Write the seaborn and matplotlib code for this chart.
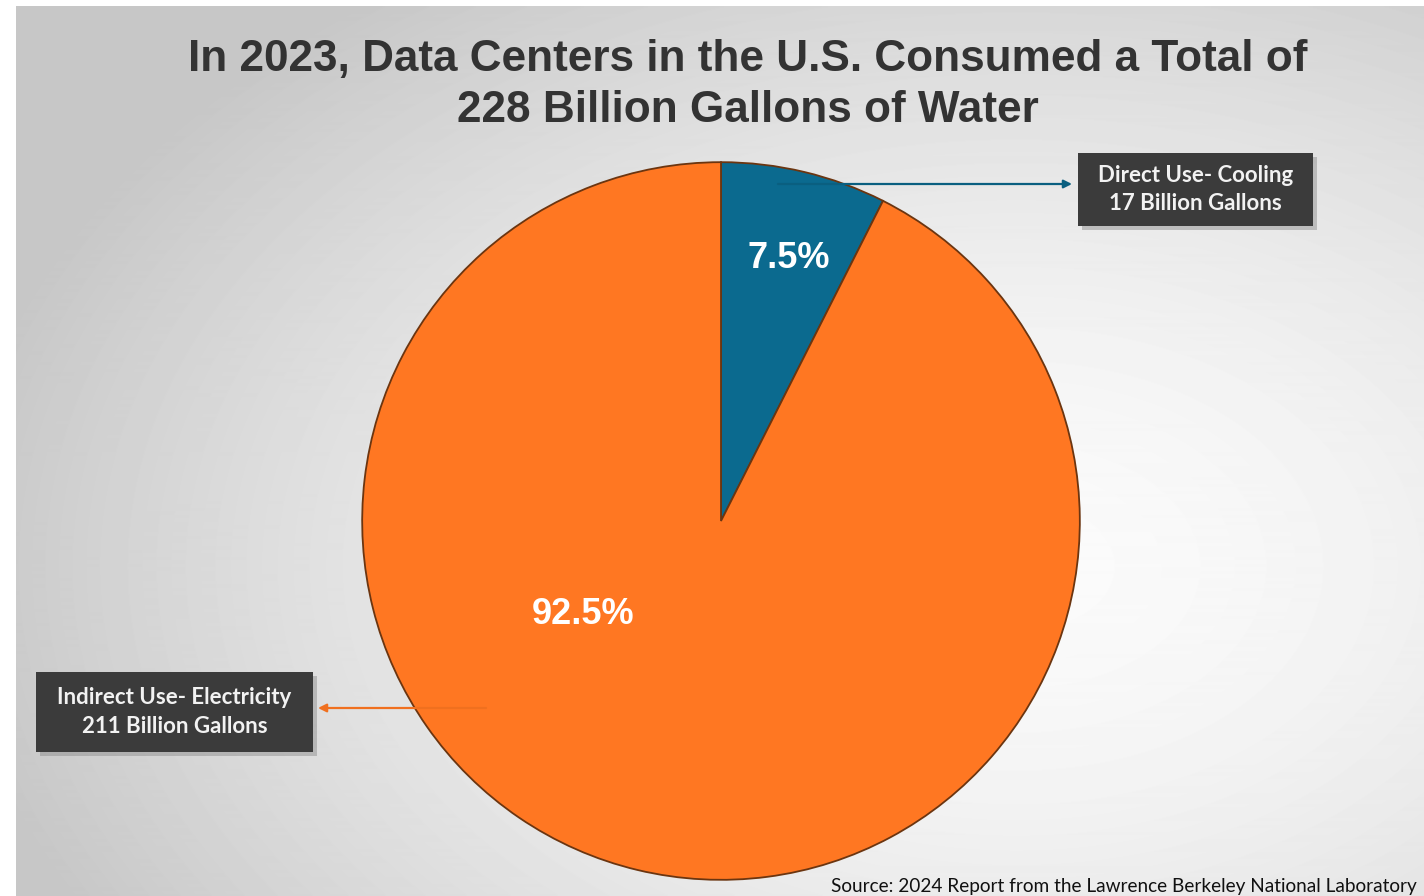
import numpy as np
import matplotlib.pyplot as plt
from matplotlib.patches import Rectangle, FancyArrowPatch
import seaborn as sns

# Werte aus der Grafik (Milliarden Gallonen)
categories = ['Direct Use- Cooling', 'Indirect Use- Electricity']
gallons = [17, 211]
share_labels = ['7.5%', '92.5%']
box_texts = ['Direct Use- Cooling\n17 Billion Gallons',
             'Indirect Use- Electricity\n211 Billion Gallons']
title = ('In 2023, Data Centers in the U.S. Consumed a Total of\n'
         '228 Billion Gallons of Water')
source = 'Source: 2024 Report from the Lawrence Berkeley National Laboratory'

sns.set_theme(style='white')
plt.rcParams['font.family'] = ['Liberation Sans', 'DejaVu Sans']
colors = sns.color_palette(['#0b6a8f', '#ff7722'])

W, H = 1424, 896
fig = plt.figure(figsize=(W / 100, H / 100), dpi=100)
fig.patch.set_facecolor('white')

# Hintergrund mit radialem Verlauf
bg = fig.add_axes([16 / W, 0, 1 - 16 / W, 1 - 6 / H])
yy, xx = np.mgrid[0:890, 0:1408]
d = np.sqrt(((xx - 1000) / 1050) ** 2 + ((yy - 560) / 700) ** 2)
shade = np.clip(0.985 - 0.2 * d ** 1.6, 0.78, 1)
bg.imshow(shade, cmap='gray', vmin=0, vmax=1, aspect='auto')
bg.axis('off')

# Kreisdiagramm
R, cx, cy = 366, 721, 521
ax = fig.add_axes([(cx - R) / W, (H - cy - R) / H, 2 * R / W, 2 * R / H])
ax.pie(gallons, colors=colors, startangle=90, counterclock=False,
       radius=1, wedgeprops=dict(edgecolor='#6b3510', linewidth=1.3))
ax.set_xlim(-1.02, 1.02)
ax.set_ylim(-1.02, 1.02)
ax.set_aspect('equal')
ax.axis('off')

def fx(px):
    return px / W

def fy(py):
    return 1 - py / H

# Prozentwerte
fig.text(fx(789), fy(258), share_labels[0], color='white', fontsize=26,
         fontweight='bold', ha='center', va='center')
fig.text(fx(583), fy(614), share_labels[1], color='white', fontsize=26,
         fontweight='bold', ha='center', va='center')

# Titel
fig.text(fx(748), fy(85), title, color='#333333', fontsize=31.8,
         fontweight='bold', ha='center', va='center', linespacing=1.33)

# Pfeile
fig.add_artist(FancyArrowPatch(
    (fx(778), fy(184)), (fx(1072), fy(184)), transform=fig.transFigure,
    arrowstyle='-|>', mutation_scale=12, color='#0a5f80', lw=1.6,
    shrinkA=0, shrinkB=0, zorder=5))
fig.add_artist(FancyArrowPatch(
    (fx(486), fy(708)), (fx(318), fy(708)), transform=fig.transFigure,
    arrowstyle='-|>', mutation_scale=12, color='#f0701f', lw=1.6,
    shrinkA=0, shrinkB=0, zorder=5))

# Beschriftungskästen mit Schatten
for (x0, y0, x1, y1), txt in zip([(1078, 153, 1313, 226), (36, 672, 313, 752)],
                                 box_texts):
    fig.add_artist(Rectangle((fx(x0 + 4), fy(y1 + 4)), fx(x1 - x0), (y1 - y0) / H,
                             transform=fig.transFigure, color='#888888',
                             alpha=0.45, lw=0, zorder=5))
    fig.add_artist(Rectangle((fx(x0), fy(y1)), fx(x1 - x0), (y1 - y0) / H,
                             transform=fig.transFigure, color='#3b3b3b', lw=0,
                             zorder=6))
    fig.text(fx((x0 + x1) / 2), fy((y0 + y1) / 2), txt, color='#f2f2f2',
             fontsize=16, fontweight='bold', ha='center', va='center',
             linespacing=1.45, family=['Lato', 'DejaVu Sans'], zorder=7)

# Quelle
fig.text(fx(831), fy(892), source, color='#111111', fontsize=13.7,
         ha='left', va='baseline', family=['Lato', 'DejaVu Sans'])

fig.savefig('out.png', dpi=100)
